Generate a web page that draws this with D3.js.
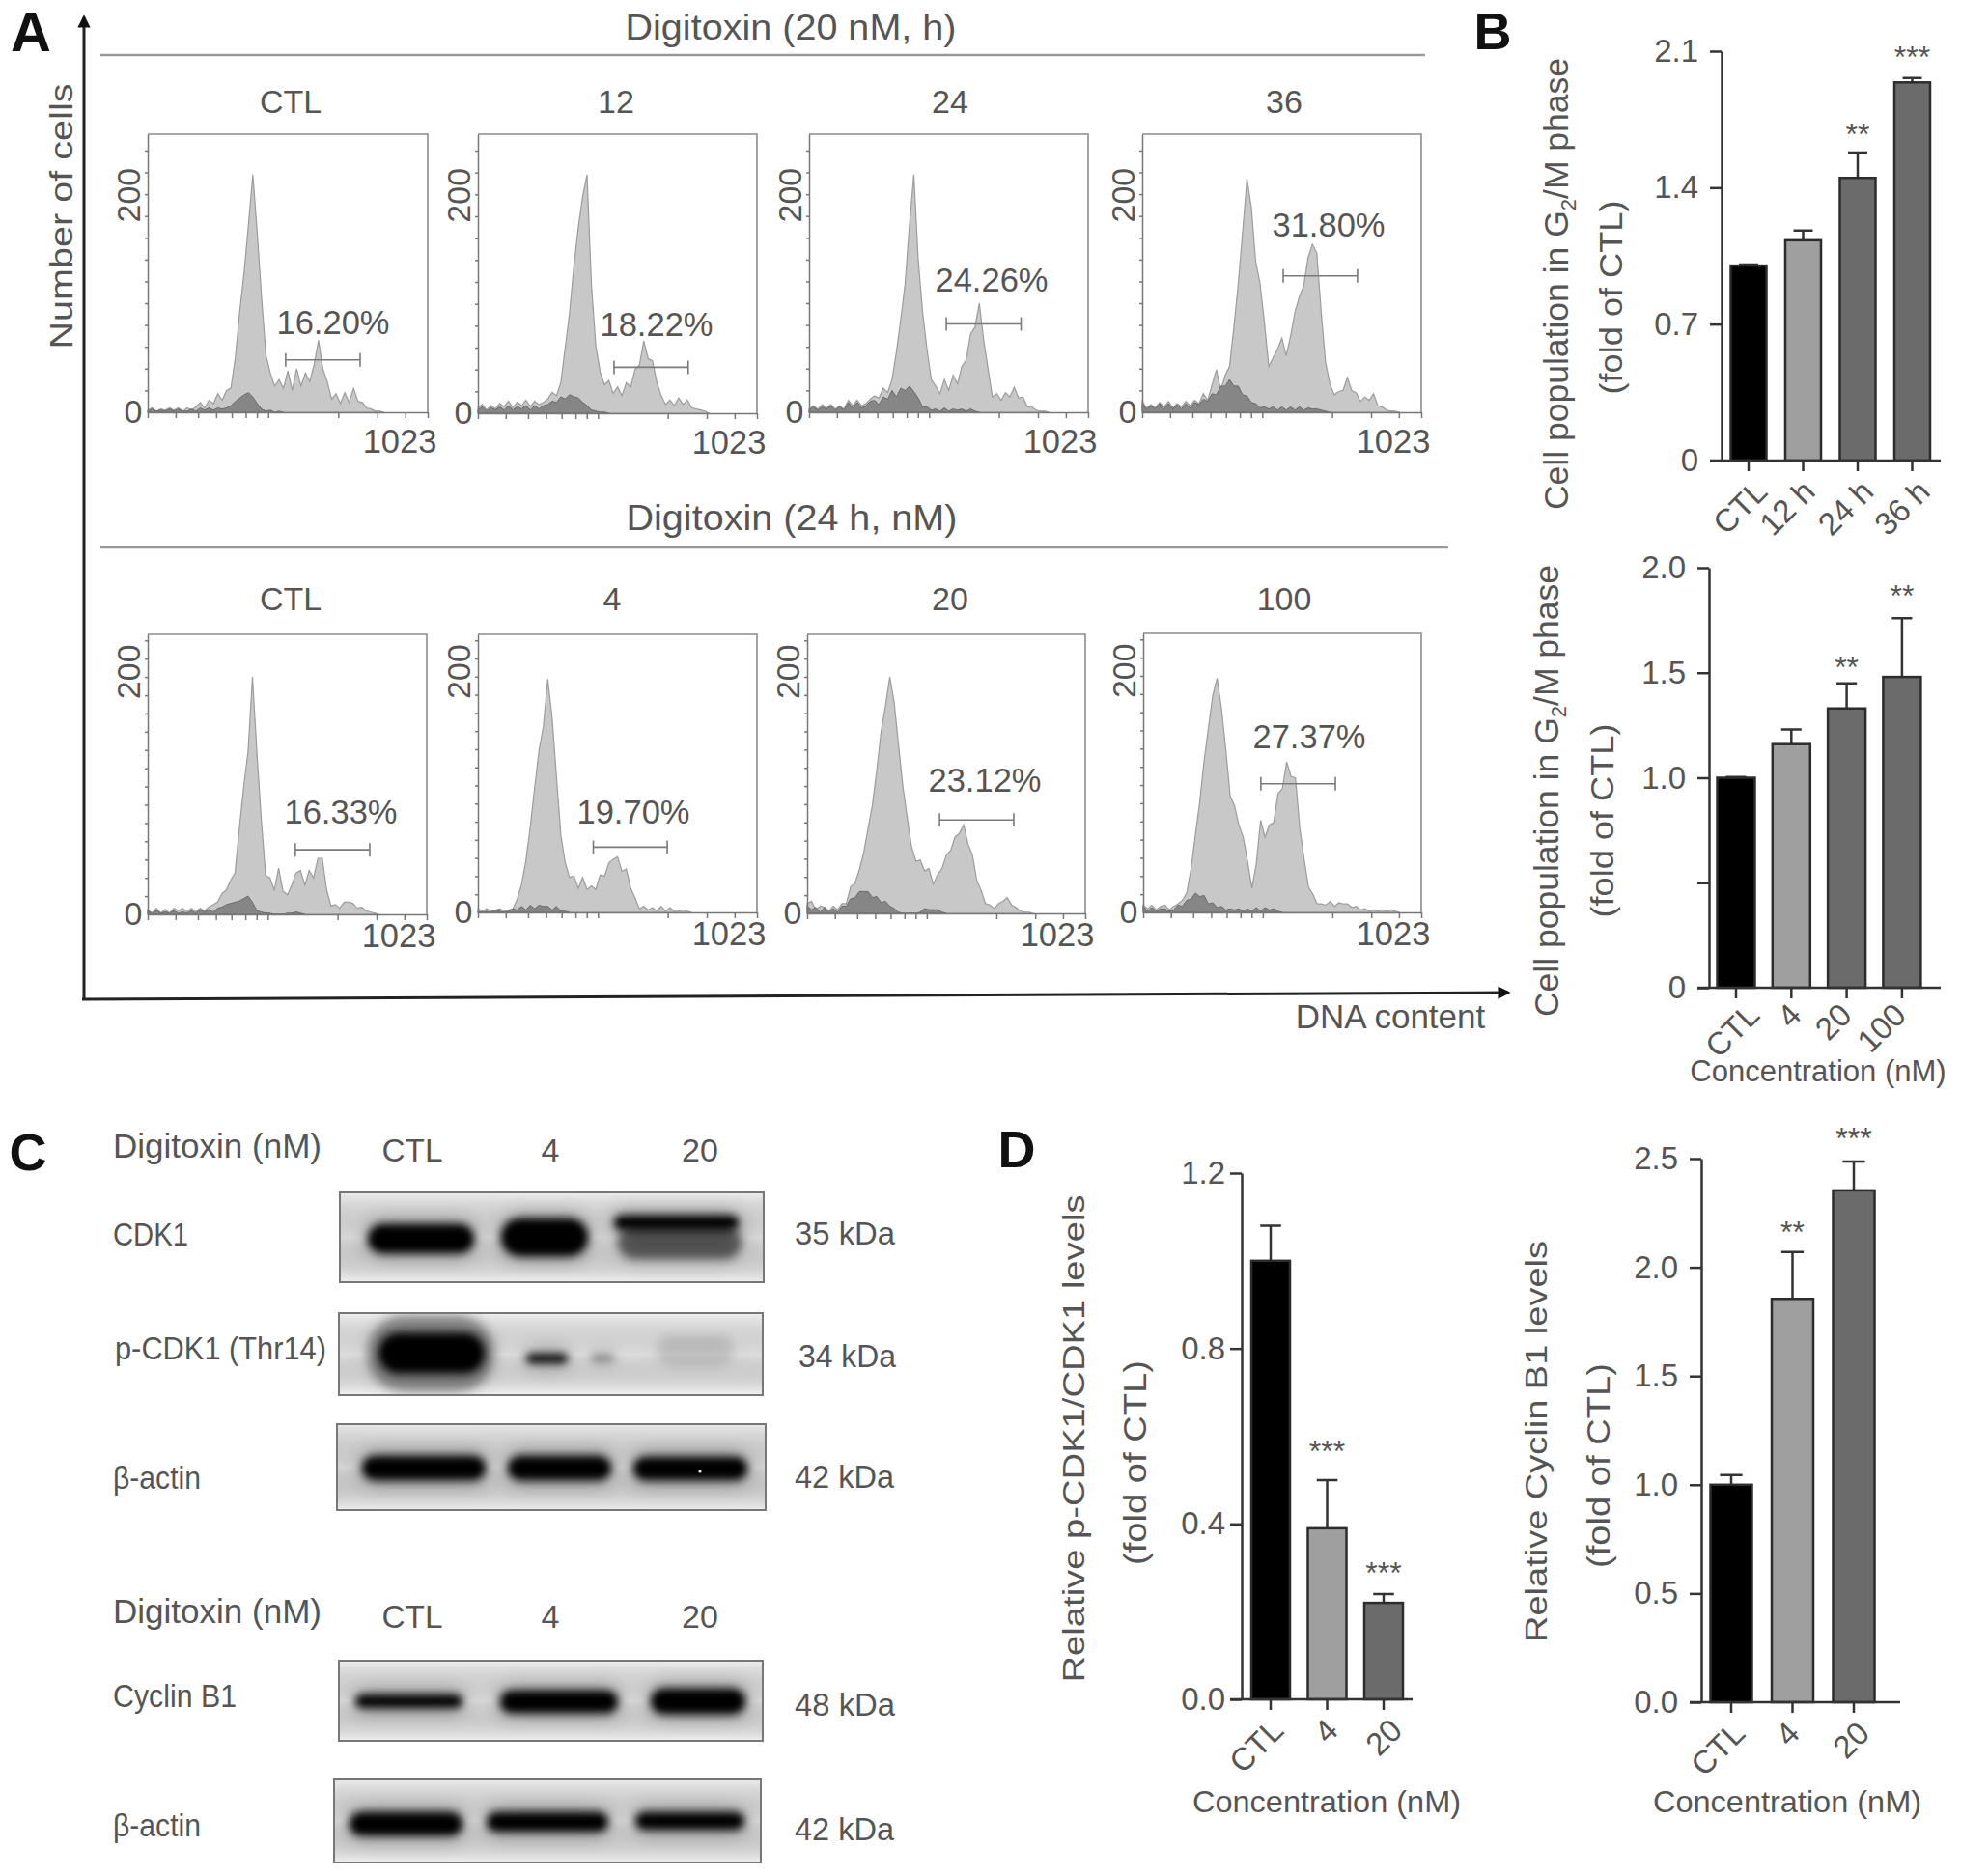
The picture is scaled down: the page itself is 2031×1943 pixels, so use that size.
<!DOCTYPE html>
<html>
<head>
<meta charset="utf-8">
<script src="https://cdnjs.cloudflare.com/ajax/libs/d3/7.8.5/d3.min.js"></script>
<style>
  body { margin: 0; background: #fff; }
  svg { display: block; font-family: "Liberation Sans", Arial, sans-serif; }
</style>
</head>
<body>
<svg id="fig" width="2031" height="1943"></svg>
<script>
// ---- flow cytometry histograms, counts per 16-channel bin ----
const binSize = 16;
const histTime = [
  [2,4,1,3,2,4,2,4,1,4,2,5,9,4,11,8,17,11,20,22,50,92,128,172,218,165,105,52,36,24,30,22,38,20,40,24,36,28,44,66,40,28,12,17,8,18,9,22,10,9,4,3,1,1,0],
  [5,8,3,7,4,9,6,11,5,10,7,12,6,11,8,10,13,19,16,28,60,92,135,170,198,218,118,62,38,26,30,18,24,16,28,24,40,44,66,50,48,28,16,8,12,7,14,8,12,5,4,3,2,0],
  [3,6,3,7,4,7,3,6,3,11,6,11,6,8,12,15,13,22,18,30,55,85,118,172,218,140,92,58,30,24,17,30,20,34,26,42,48,72,78,100,66,40,14,17,11,18,14,23,13,14,5,5,2,1,1,0],
  [10,4,7,4,9,5,10,4,8,5,10,6,11,8,17,11,25,39,20,34,42,78,118,165,214,188,138,118,82,42,50,58,68,52,70,92,106,116,142,154,146,92,46,26,16,19,20,32,20,18,10,14,11,17,6,5,2,1,1,0]
];
const histTimeDark = [
  [1,3,1,2,1,3,1,3,1,1,3,1,4,2,4,2,4,3,4,6,10,13,16,18,14,8,3,1,2,0,1,0],
  [3,6,2,5,3,6,3,7,3,6,4,7,3,7,4,7,8,11,10,15,13,17,15,14,10,7,3,2,1,1,0],
  [2,5,2,5,3,6,2,5,2,9,4,9,4,6,10,11,7,14,12,20,14,22,20,24,19,13,5,5,2,3,1,4,1,3,2,3,1,3,1,0],
  [8,3,6,3,8,3,8,3,7,3,8,4,9,7,12,10,17,16,24,24,30,24,24,16,15,9,8,4,5,3,5,2,5,2,5,2,5,2,4,3,3,2,1,0]
];
const histDose = [
  [4,1,5,1,4,1,5,3,5,2,5,2,5,3,6,8,10,17,20,28,34,71,105,134,195,134,79,32,30,20,38,19,16,24,34,36,24,36,30,46,46,20,7,8,5,10,10,9,5,6,3,2,1,0],
  [3,1,3,1,2,3,1,2,3,11,23,43,71,103,134,154,193,161,112,64,41,29,30,20,29,19,22,19,31,30,41,44,46,34,36,20,12,3,5,2,4,1,5,1,4,1,1,2,1,0],
  [8,10,3,6,5,2,6,3,8,8,22,25,36,50,70,89,118,150,171,195,174,139,105,79,55,43,44,35,37,24,32,37,48,52,63,66,73,57,48,27,19,8,7,4,8,10,13,7,5,2,1,1,0],
  [6,3,6,2,5,6,2,5,7,10,16,36,64,91,125,152,179,193,168,134,96,88,72,62,42,20,40,76,62,72,74,98,102,124,112,111,70,44,21,15,7,7,6,9,5,8,7,7,4,5,2,3,1,2,1,2,1,2,1,0]
];
const histDoseDark = [
  [3,1,3,1,2,1,3,1,2,1,3,1,4,2,4,2,5,6,8,9,10,11,13,15,10,3,2,1,1,0,0,0,1,1,2,1,0],
  [1,0,1,0,2,1,0,1,3,2,5,2,6,3,6,5,5,2,5,1,1,0],
  [6,3,5,1,5,1,4,1,6,6,12,13,18,18,18,13,14,9,10,6,4,1,0,0,0,0,1,4,3,3,3,1,0],
  [5,1,4,1,3,3,1,2,6,5,10,11,16,13,14,7,8,4,5,2,3,2,3,1,3,1,4,1,4,2,3,1,0]
];
const timeLabels = ['CTL', '12', '24', '36'];
const doseLabels = ['CTL', '4', '20', '100'];
const timePercents = ['16.20%', '18.22%', '24.26%', '31.80%'];
const dosePercents = ['16.33%', '19.70%', '23.12%', '27.37%'];
// gate markers: start channel, end channel, count level
const timeGates = [[504, 776, 48], [499, 771, 42], [503, 777, 81], [517, 789, 125]];
const doseGates = [[541, 814, 53], [423, 694, 54], [487, 760, 77], [433, 707, 106]];
const xTickChannels = [0, 102, 184, 250, 307, 358, 399, 440, 696, 839, 941, 1023];

// ---- bar chart values ----
const g2mTimeCats = ['CTL', '12 h', '24 h', '36 h'];
const g2mTimeVals = [1.0, 1.13, 1.45, 1.94];
const g2mTimeErr = [0.005, 0.05, 0.13, 0.023];
const g2mTimeStars = ['', '', '**', '***'];
const g2mDoseCats = ['CTL', '4', '20', '100'];
const g2mDoseVals = [1.0, 1.16, 1.33, 1.48];
const g2mDoseErr = [0.003, 0.07, 0.12, 0.28];
const g2mDoseStars = ['', '', '**', '**'];
const cdkCats = ['CTL', '4', '20'];
const cdkVals = [1.0, 0.39, 0.22];
const cdkErr = [0.08, 0.11, 0.02];
const cdkStars = ['', '***', '***'];
const cycCats = ['CTL', '4', '20'];
const cycVals = [1.0, 1.855, 2.354];
const cycErr = [0.045, 0.215, 0.133];
const cycStars = ['', '**', '***'];
const barColors = ['#000000', '#9f9f9f', '#6b6b6b', '#6b6b6b'];

const svg = d3.select('#fig');
const textColor = '#555';

function label(str, x, y, size, opts = {}) {
    const t = svg.append('text')
        .attr('transform', `translate(${x},${y})` + (opts.rotate ? ` rotate(${opts.rotate})` : ''))
        .attr('dy', '.35em')
        .attr('text-anchor', opts.anchor || 'middle')
        .attr('font-size', size)
        .attr('font-weight', opts.weight || 'normal')
        .attr('fill', opts.fill || textColor);
    if (opts.length) {
        t.attr('textLength', opts.length).attr('lengthAdjust', 'spacingAndGlyphs');
    }
    t.text(str);
    return t;
}

// ---- panel A ----
const defs = svg.append('defs');
defs.append('marker').attr('id', 'arrow')
    .attr('viewBox', '0 -5 10 10').attr('refX', 8).attr('refY', 0)
    .attr('markerWidth', 4.4).attr('markerHeight', 4.4).attr('orient', 'auto')
    .append('path').attr('d', 'M0,-5L10,0L0,5').attr('fill', '#111');

svg.append('path').attr('d', 'M87,1035L87,18').attr('stroke', '#222').attr('stroke-width', 3)
    .attr('fill', 'none').attr('marker-end', 'url(#arrow)');
svg.append('path').attr('d', 'M85,1035L1562,1028').attr('stroke', '#222').attr('stroke-width', 3)
    .attr('fill', 'none').attr('marker-end', 'url(#arrow)');
label('A', 32, 33, 58, { weight: 'bold', fill: '#111' });
label('Number of cells', 63, 224, 34, { rotate: -90, length: 275 });
label('DNA content', 1440, 1053, 35);

const timeBoxes = [[153, 443, 139, 427], [495, 784, 139, 428], [838, 1127, 139, 427], [1183, 1472, 139, 427]];
const doseBoxes = [[153, 442, 657, 947], [495, 784, 657, 945], [836, 1124, 657, 946], [1184, 1472, 656, 945]];
const timePctPos = [[345, 334], [680, 336], [1027, 290], [1376, 233]];
const dosePctPos = [[353, 841], [656, 841], [1020, 808], [1356, 763]];
const titleCentersTime = [301, 638, 984, 1330];
const titleCentersDose = [301, 634, 984, 1330];

function drawHist(box, counts, dark, gate, pct, pctPos, title, titleX, titleY, yMax, yStep, labelGap) {
    const [x0, x1, top, base] = box;
    const x = d3.scaleLinear().domain([0, 1023]).range([x0, x1]);
    const y = d3.scaleLinear().domain([0, yMax]).range([base, top]);
    const area = d3.area().x((d, i) => x(i * binSize)).y0(base).y1(d => y(d));

    svg.append('path').datum(counts).attr('d', area)
        .attr('fill', '#c8c8c8').attr('stroke', '#9c9c9c').attr('stroke-width', 1.2);
    svg.append('path').datum(dark).attr('d', area)
        .attr('fill', '#868686').attr('stroke', '#6a6a6a').attr('stroke-width', 1);

    // box sides
    svg.append('path').attr('d', `M${x0},${top}L${x1},${top}L${x1},${base}`)
        .attr('fill', 'none').attr('stroke', '#8c8c8c').attr('stroke-width', 1.6);

    const xAxis = svg.append('g').attr('transform', `translate(0,${base})`)
        .call(d3.axisBottom(x).tickValues(xTickChannels).tickSize(6).tickSizeOuter(0).tickFormat(''));
    const yAxis = svg.append('g').attr('transform', `translate(${x0},0)`)
        .call(d3.axisLeft(y).tickValues(d3.range(yStep, yMax, yStep)).tickSize(3).tickSizeOuter(0).tickFormat(''));
    [xAxis, yAxis].forEach(a => {
        a.selectAll('path,line').attr('stroke', '#777').attr('stroke-width', 1.5);
    });

    // gate
    const gy = y(gate[2]);
    svg.append('path')
        .attr('d', `M${x(gate[0])},${gy - 7}V${gy + 7}M${x(gate[0])},${gy}H${x(gate[1])}M${x(gate[1])},${gy - 7}V${gy + 7}`)
        .attr('fill', 'none').attr('stroke', '#7a7a7a').attr('stroke-width', 1.6);

    label(pct, pctPos[0], pctPos[1], 34.5);
    label(title, titleX, titleY, 34);
    label('200', x0 - 20, y(200) + 1, 34, { rotate: -90 });
    label('0', x0 - 15, base - 1, 34);
    label('1023', x1 - 29, base + labelGap, 34.5);
}

timeBoxes.forEach((b, i) => drawHist(b, histTime[i], histTimeDark[i], timeGates[i], timePercents[i], timePctPos[i],
    timeLabels[i], titleCentersTime[i], 105, 255, 20, 30));
doseBoxes.forEach((b, i) => drawHist(b, histDose[i], histDoseDark[i], doseGates[i], dosePercents[i], dosePctPos[i],
    doseLabels[i], titleCentersDose[i], 620, 230, 15, 22));

label('Digitoxin (20 nM, h)', 819, 28, 37, { length: 343 });
label('Digitoxin (24 h, nM)', 820, 536, 37, { length: 343 });
svg.append('line').attr('x1', 104).attr('x2', 1476).attr('y1', 57).attr('y2', 57)
    .attr('stroke', '#999').attr('stroke-width', 2.5);
svg.append('line').attr('x1', 104).attr('x2', 1500).attr('y1', 567).attr('y2', 567)
    .attr('stroke', '#999').attr('stroke-width', 2.5);

// ---- bar charts, panels B and D ----
function drawBars(cfg) {
    const n = cfg.cats.length;
    const p = 1 - cfg.barW / cfg.step;
    const x = d3.scaleBand().domain(cfg.cats)
        .range([cfg.firstCenter - cfg.step / 2, cfg.firstCenter - cfg.step / 2 + cfg.step * n])
        .paddingInner(p).paddingOuter(p / 2);
    const y = d3.scaleLinear().domain([0, cfg.yMax]).range([cfg.base, cfg.top]);
    const g = svg.append('g');

    // error bars first so the bar outline sits over them
    cfg.cats.forEach((c, i) => {
        const cx = x(c) + x.bandwidth() / 2;
        const yv = y(cfg.vals[i]);
        const ye = y(cfg.vals[i] + cfg.err[i]);
        g.append('path').attr('d', `M${cx},${yv}V${ye}M${cx - cfg.barW * 0.27},${ye}H${cx + cfg.barW * 0.27}`)
            .attr('fill', 'none').attr('stroke', '#333').attr('stroke-width', 2.5);
    });

    g.selectAll('rect').data(cfg.cats).join('rect')
        .attr('x', d => x(d))
        .attr('y', (d, i) => y(cfg.vals[i]))
        .attr('width', x.bandwidth())
        .attr('height', (d, i) => cfg.base - y(cfg.vals[i]))
        .attr('fill', (d, i) => barColors[i])
        .attr('stroke', '#2c2c2c').attr('stroke-width', 2.5);

    const yAxis = svg.append('g').attr('transform', `translate(${cfg.axisX},0)`)
        .call(d3.axisLeft(y).tickValues(cfg.ticks).tickSize(12).tickSizeOuter(0)
            .tickPadding(cfg.tickPad).tickFormat((d, i) => cfg.tickLabels[i]));
    const xAxis = svg.append('g').attr('transform', `translate(0,${cfg.base})`)
        .call(d3.axisBottom(x).tickSize(11).tickSizeOuter(0));
    xAxis.select('.domain').remove();
    xAxis.selectAll('text')
        .attr('x', 0).attr('y', 0).attr('dy', '.35em')
        .attr('text-anchor', 'end')
        .attr('transform', (d, i) => `translate(${cfg.labelDx[i]},${cfg.labelDy}) rotate(-45)`);
    [xAxis, yAxis].forEach(a => {
        a.selectAll('path,line').attr('stroke', '#333').attr('stroke-width', 2.5);
        a.selectAll('text').attr('font-size', cfg.fontSize).attr('fill', textColor)
            .attr('font-family', '"Liberation Sans", Arial, sans-serif');
    });
    svg.append('line').attr('x1', cfg.axisX - 12).attr('x2', cfg.axisEnd)
        .attr('y1', cfg.base).attr('y2', cfg.base).attr('stroke', '#333').attr('stroke-width', 2.5);

    cfg.cats.forEach((c, i) => {
        if (!cfg.stars[i]) return;
        label(cfg.stars[i], x(c) + x.bandwidth() / 2, cfg.starY[i] + 3, 32, { fill: '#555' });
    });
}

drawBars({ cats: g2mTimeCats, vals: g2mTimeVals, err: g2mTimeErr, stars: g2mTimeStars, starY: [0, 0, 136, 56],
    firstCenter: 1811, step: 56.5, barW: 37, axisX: 1783, axisEnd: 2010, base: 477, top: 53, yMax: 2.1,
    ticks: [0, 0.7, 1.4, 2.1], tickLabels: ['0', '0.7', '1.4', '2.1'], fontSize: 33, tickPad: 12,
    labelDx: [13, 6, 10, 12], labelDy: 26 });
drawBars({ cats: g2mDoseCats, vals: g2mDoseVals, err: g2mDoseErr, stars: g2mDoseStars, starY: [0, 0, 688, 614],
    firstCenter: 1798, step: 57.3, barW: 39, axisX: 1770, axisEnd: 2010, base: 1023, top: 588, yMax: 2.0,
    ticks: [0, 0.5, 1, 1.5, 2], tickLabels: ['0', '', '1.0', '1.5', '2.0'], fontSize: 33, tickPad: 12,
    labelDx: [18, 4, -1, -2], labelDy: 22 });
drawBars({ cats: cdkCats, vals: cdkVals, err: cdkErr, stars: cdkStars, starY: [0, 1500, 1626],
    firstCenter: 1316, step: 58.5, barW: 40, axisX: 1286, axisEnd: 1463, base: 1760, top: 1215, yMax: 1.2,
    ticks: [0, 0.4, 0.8, 1.2], tickLabels: ['0.0', '0.4', '0.8', '1.2'], fontSize: 33, tickPad: 5,
    labelDx: [7, 5, 13], labelDy: 26 });
drawBars({ cats: cycCats, vals: cycVals, err: cycErr, stars: cycStars, starY: [0, 1273, 1176],
    firstCenter: 1793, step: 63.5, barW: 43, axisX: 1762, axisEnd: 1968, base: 1763, top: 1200, yMax: 2.5,
    ticks: [0, 0.5, 1, 1.5, 2, 2.5], tickLabels: ['0.0', '0.5', '1.0', '1.5', '2.0', '2.5'], fontSize: 33, tickPad: 12,
    labelDx: [8, 1, 10], labelDy: 26 });

function g2Label(x, y) {
    const t = label('', x, y, 35.5, { rotate: -90 });
    t.append('tspan').text('Cell population in G');
    t.append('tspan').attr('font-size', 22).attr('dy', 8).text('2');
    t.append('tspan').attr('dy', -8).text('/M phase');
    return t;
}
g2Label(1612, 294);
g2Label(1602, 819);
label('(fold of CTL)', 1668, 308, 34, { rotate: -90, length: 201 });
label('(fold of CTL)', 1659, 850, 34, { rotate: -90, length: 201 });
label('Concentration (nM)', 1883, 1109, 31);
label('B', 1546, 32, 54, { weight: 'bold', fill: '#111' });

label('D', 1053, 1190, 54, { weight: 'bold', fill: '#111' });
label('Relative p-CDK1/CDK1 levels', 1112, 1490, 32, { rotate: -90, length: 505 });
label('(fold of CTL)', 1175, 1515, 34, { rotate: -90, length: 212 });
label('Relative Cyclin B1 levels', 1591, 1493, 32, { rotate: -90, length: 416 });
label('(fold of CTL)', 1655, 1518, 34, { rotate: -90, length: 212 });
label('Concentration (nM)', 1374, 1866, 32, { length: 278 });
label('Concentration (nM)', 1851, 1866, 32, { length: 278 });

// ---- western blots, panel C ----
// each band: [x0, x1, y0, y1, opacity]
const blots = [
    { box: [352, 791, 1235, 1328], bg: '#e2e2e2', bands: [[381, 491, 1268, 1298, 1], [519, 609, 1262, 1301, 1], [636, 765, 1259, 1274, 1], [640, 768, 1270, 1304, 0.5]] },
    { box: [351, 790, 1360, 1445], bg: '#e8e8e8', bands: [[380, 512, 1362, 1442, 0.28], [392, 502, 1381, 1422, 1], [545, 588, 1402, 1412, 0.95], [612, 636, 1402, 1411, 0.3], [680, 760, 1384, 1414, 0.09]] },
    { box: [349, 793, 1475, 1564], bg: '#dfdfdf', bands: [[375, 503, 1508, 1533, 1], [526, 633, 1508, 1533, 1], [656, 774, 1509, 1533, 1]] },
    { box: [351, 790, 1720, 1803], bg: '#e4e4e4', bands: [[368, 479, 1755, 1769, 1], [518, 640, 1751, 1774, 1], [674, 772, 1749, 1775, 1]] },
    { box: [346, 788, 1843, 1929], bg: '#e2e2e2', bands: [[362, 479, 1877, 1901, 1], [504, 630, 1877, 1897, 1], [658, 771, 1877, 1895, 1]] }
];
const coreBlur = defs.append('filter').attr('id', 'bandBlur').attr('x', '-30%').attr('y', '-80%').attr('width', '160%').attr('height', '260%');
coreBlur.append('feGaussianBlur').attr('stdDeviation', 4);
const haloBlur = defs.append('filter').attr('id', 'haloBlur').attr('x', '-40%').attr('y', '-150%').attr('width', '180%').attr('height', '400%');
haloBlur.append('feGaussianBlur').attr('stdDeviation', 10);
const edgeGlow = defs.append('linearGradient').attr('id', 'blotBg').attr('x1', 0).attr('x2', 0).attr('y1', 0).attr('y2', 1);
edgeGlow.append('stop').attr('offset', 0).attr('stop-color', '#fff').attr('stop-opacity', 0.35);
edgeGlow.append('stop').attr('offset', 0.5).attr('stop-color', '#000').attr('stop-opacity', 0.05);
edgeGlow.append('stop').attr('offset', 1).attr('stop-color', '#fff').attr('stop-opacity', 0.45);
blots.forEach((b, i) => {
    const [x0, x1, y0, y1] = b.box;
    defs.append('clipPath').attr('id', 'blot' + i).append('rect')
        .attr('x', x0).attr('y', y0).attr('width', x1 - x0).attr('height', y1 - y0);
    const g = svg.append('g').attr('clip-path', `url(#blot${i})`);
    g.append('rect').attr('x', x0).attr('y', y0).attr('width', x1 - x0).attr('height', y1 - y0).attr('fill', b.bg);
    g.append('rect').attr('x', x0).attr('y', y0).attr('width', x1 - x0).attr('height', y1 - y0).attr('fill', 'url(#blotBg)');
    b.bands.forEach(d => {
        const h = d[3] - d[2];
        g.append('rect').attr('x', d[0]).attr('y', d[2] - 2).attr('width', d[1] - d[0]).attr('height', h + 4)
            .attr('rx', h / 2).attr('fill', '#111').attr('opacity', d[4] * 0.4).attr('filter', 'url(#haloBlur)');
        g.append('rect').attr('x', d[0]).attr('y', d[2]).attr('width', d[1] - d[0]).attr('height', h)
            .attr('rx', h / 2).attr('fill', '#000').attr('opacity', d[4]).attr('filter', 'url(#bandBlur)');
    });
    svg.append('rect').attr('x', x0).attr('y', y0).attr('width', x1 - x0).attr('height', y1 - y0)
        .attr('fill', 'none').attr('stroke', '#777').attr('stroke-width', 2);
});
svg.append('circle').attr('cx', 725).attr('cy', 1524).attr('r', 1.6).attr('fill', '#eee');

label('C', 29, 1193, 54, { weight: 'bold', fill: '#111' });
[1187, 1669].forEach(y => label('Digitoxin (nM)', 117, y, 35, { anchor: 'start', length: 216 }));
[1191, 1674].forEach(y => {
    label('CTL', 427, y, 34, { length: 63 });
    label('4', 570, y, 34);
    label('20', 725, y, 34);
});
label('CDK1', 117, 1278, 33, { anchor: 'start', length: 78 });
label('p-CDK1 (Thr14)', 119, 1396, 33, { anchor: 'start', length: 219 });
label('β-actin', 117, 1530, 33, { anchor: 'start', length: 91 });
label('Cyclin B1', 117, 1756, 33, { anchor: 'start', length: 128 });
label('β-actin', 117, 1890, 33, { anchor: 'start', length: 91 });
label('35  kDa', 823, 1277, 33, { anchor: 'start', length: 104 });
label('34  kDa', 827, 1404, 33, { anchor: 'start', length: 101 });
label('42  kDa', 823, 1529, 33, { anchor: 'start', length: 103 });
label('48  kDa', 823, 1765, 33, { anchor: 'start', length: 104 });
label('42  kDa', 823, 1894, 33, { anchor: 'start', length: 103 });
</script>
</body>
</html>
